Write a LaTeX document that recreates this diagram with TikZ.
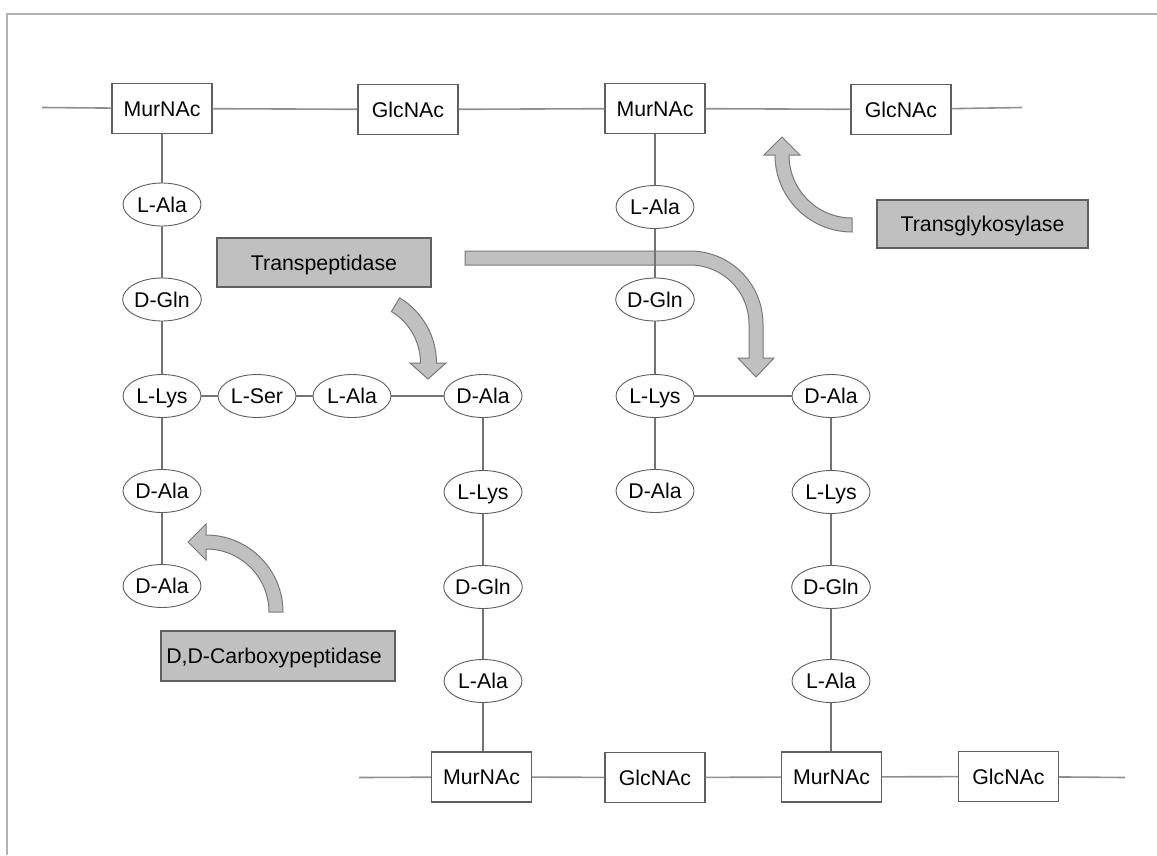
\documentclass[tikz,border=0pt]{standalone}
\usepackage{fontspec}
\setmainfont{Liberation Sans}
\usetikzlibrary{shapes.geometric}
\definecolor{linegray}{RGB}{115,115,115}
\definecolor{boxfill}{RGB}{192,192,192}
\definecolor{boxdraw}{RGB}{95,95,95}
\definecolor{arrowdraw}{RGB}{120,120,120}
\definecolor{framegray}{RGB}{178,178,178}
\definecolor{txt}{RGB}{5,5,5}
\begin{document}
\begin{tikzpicture}[x=1pt,y=1pt,
  lbl/.style={font=\fontsize{21.3}{24}\selectfont, text=txt, text height=15pt, text depth=0pt},
  sugar/.style={lbl, draw=boxdraw, fill=white, line width=1.1pt, minimum width=100pt, minimum height=50pt, inner sep=0pt},
  amino/.style={lbl, ellipse, draw=boxdraw, fill=white, line width=0.9pt, minimum width=78pt, minimum height=43pt, inner sep=0pt},
  enzyme/.style={lbl, draw=boxdraw, fill=boxfill, line width=1.1pt, inner sep=0pt},
  bond/.style={draw=linegray, line width=1.2pt},
  chain/.style={draw=linegray!80, line width=1.6pt},
  fatarrow/.style={draw=arrowdraw, fill=boxfill, line width=1pt, line join=miter}
]
\useasboundingbox (0,0) rectangle (1157,-855);
% frame
\draw[framegray, line width=2pt] (7,-855) -- (7,-13.5) -- (1157,-13.5);

% fat arrows
% Transglykosylase arrow
\draw[fatarrow] (852,-232) arc[start angle=-90, end angle=-180, radius=77]
  -- (764,-155) -- (782,-137) -- (800,-155) -- (789,-155)
  arc[start angle=180, end angle=270, radius=63] -- cycle;
% D,D-Carboxypeptidase arrow
\draw[fatarrow] (283,-612) arc[start angle=0, end angle=90, radius=77]
  -- (206,-524) -- (188,-542) -- (206,-560) -- (206,-549)
  arc[start angle=90, end angle=0, radius=63] -- cycle;
% short Transpeptidase arrow
\draw[fatarrow] ([shift={(360.5,-363)}]59:76) arc[start angle=59, end angle=0, radius=76]
  -- (446,-363) -- (428,-379) -- (410,-363) -- (420.5,-363)
  arc[start angle=0, end angle=59, radius=60] -- cycle;
% long Transpeptidase arrow
\draw[fatarrow] (465,-251) -- (690,-251) arc[start angle=90, end angle=0, radius=73]
  -- (763,-358) -- (774,-358) -- (756,-377) -- (738,-358) -- (749,-358) -- (749,-324)
  arc[start angle=0, end angle=90, radius=59] -- (465,-265) -- cycle;

% enzymes
\node[enzyme, minimum width=214pt, minimum height=49pt] (tp) at (324,-262.5) {Transpeptidase};
\node[enzyme, minimum width=211pt, minimum height=48pt] (tg) at (982.5,-224) {Transglykosylase};
\node[enzyme, minimum width=234pt, minimum height=50pt] (cp) at (278,-656) {D,D-Carboxypeptidase\hspace*{8pt}};

% top chain
\coordinate (tl) at (42,-107.5);
\coordinate (tr) at (1022,-107.5);
\node[sugar] (m1) at (162,-108.5) {MurNAc};
\node[sugar] (g1) at (408,-109.5) {GlcNAc};
\node[sugar] (m2) at (655,-108.5) {MurNAc};
\node[sugar] (g2) at (901,-109.5) {GlcNAc};

% bottom chain
\coordinate (bl) at (359,-777.5);
\coordinate (br) at (1125,-777.5);
\node[sugar] (bm1) at (481.5,-777) {MurNAc};
\node[sugar] (bg1) at (655,-777.5) {GlcNAc};
\node[sugar] (bm2) at (831.5,-777) {MurNAc};
\node[sugar] (bg2) at (1008.5,-776.5) {GlcNAc};

% left peptide
\node[amino] (la1) at (162,-204.5) {L-Ala};
\node[amino] (dg1) at (162,-299.5) {D-Gln};
\node[amino] (ll1) at (162,-396) {L-Lys};
\node[amino] (da1) at (162,-491) {D-Ala};
\node[amino] (da2) at (162,-586) {D-Ala};
\node[amino] (ls)  at (257,-396) {L-Ser};
\node[amino] (la2) at (352,-396) {L-Ala};
\node[amino] (da3) at (483,-396) {D-Ala};
\node[amino] (ll2) at (483,-492) {L-Lys};
\node[amino] (dg2) at (483,-587) {D-Gln};
\node[amino] (la3) at (483,-681) {L-Ala};

% right peptide
\node[amino] (la4) at (655,-207) {L-Ala};
\node[amino] (dg3) at (655,-299.5) {D-Gln};
\node[amino] (ll3) at (655,-396) {L-Lys};
\node[amino] (da4) at (655,-491) {D-Ala};
\node[amino] (da5) at (831,-396) {D-Ala};
\node[amino] (ll4) at (831,-492) {L-Lys};
\node[amino] (dg4) at (831,-587) {D-Gln};
\node[amino] (la5) at (831,-681) {L-Ala};

% glycan chains
\draw[chain] (tl) -- (m1) -- (g1) -- (m2) -- (g2) -- (tr);
\draw[chain] (bl) -- (bm1) -- (bg1) -- (bm2) -- (bg2) -- (br);

% peptide bonds
\draw[bond] (m1) -- (la1) -- (dg1) -- (ll1) -- (da1) -- (da2);
\draw[bond] (ll1) -- (ls) -- (la2) -- (da3);
\draw[bond] (da3) -- (ll2) -- (dg2) -- (la3);
\draw[bond] (la3.south) -- (bm1.north -| la3.south);
\draw[bond] (m2) -- (la4) -- (dg3) -- (ll3) -- (da4);
\draw[bond] (ll3) -- (da5) -- (ll4) -- (dg4) -- (la5);
\draw[bond] (la5.south) -- (bm2.north -| la5.south);
\end{tikzpicture}
\end{document}
